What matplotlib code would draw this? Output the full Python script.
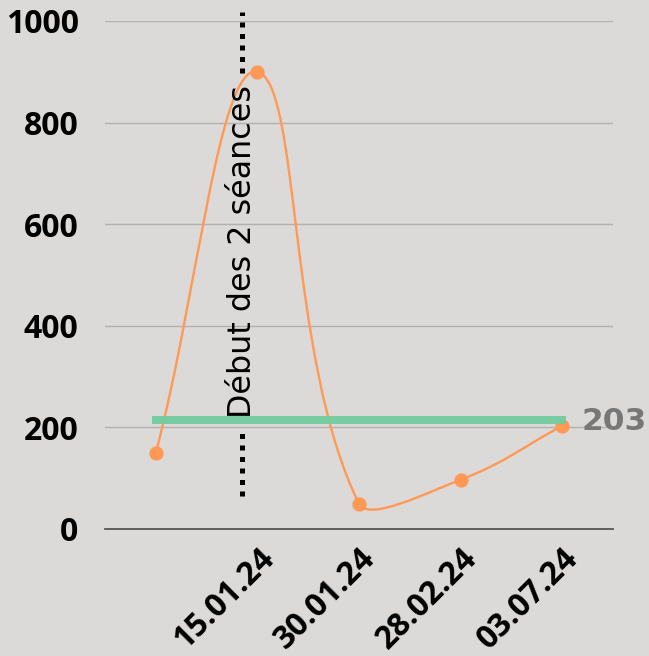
import numpy as np
import matplotlib
matplotlib.use("Agg")
import matplotlib.pyplot as plt
from matplotlib.path import Path
from matplotlib.patches import PathPatch
from matplotlib.transforms import ScaledTranslation

# --- data -------------------------------------------------------------
dates = ["", "15.01.24", "30.01.24", "28.02.24", "03.07.24"]
values = [150, 900, 50, 97, 203]
reference_value = 203
marker_label = "Début des 2 séances"
marker_pos = 0.85          # position of the session marker on the x scale
y_ticks = [0, 200, 400, 600, 800, 1000]

BG = "#dcdad8"
ORANGE = "#ff9955"
GREEN = "#74cc9f"

fig = plt.figure(figsize=(6.49, 6.56), dpi=100, facecolor=BG)
ax = fig.add_axes([0.1618, 0.1936, 0.9445 - 0.1618, 0.968 - 0.1936])
ax.set_facecolor(BG)

x = np.arange(len(values))
ax.set_xlim(-0.5, len(values) - 0.5)
ax.set_ylim(0, 1000)

# grid and axes styling
ax.set_yticks(y_ticks)
ax.yaxis.grid(True, color="#b3b1af", linewidth=1.0)
ax.set_axisbelow(True)
for s in ["top", "right", "left"]:
    ax.spines[s].set_visible(False)
ax.spines["bottom"].set_color("#555555")
ax.spines["bottom"].set_linewidth(1.3)
ax.tick_params(axis="both", length=0)
ax.tick_params(axis="y", pad=19)
ax.tick_params(axis="x", pad=9.5)

tick_font = dict(family="Open Sans", weight="bold", size=23, color="black")
ax.set_yticklabels([str(v) for v in y_ticks], **tick_font)
ax.set_xticks(x)
ax.set_xticklabels(dates, rotation=45, ha="right", va="top",
                   rotation_mode="anchor", **tick_font)


def spline_path(xs, ys, tension=0.4, x_unit=100.0):
    """Cubic Bezier spline through the points (tension-based control points).

    Segment lengths are measured with one x step worth `x_unit` in y units.
    """
    pts = np.column_stack([xs, ys]).astype(float)
    scale = np.array([x_unit, 1.0])
    n = len(pts)
    prev_cp, next_cp = [], []
    for i in range(n):
        cur = pts[i]
        prv = pts[i - 1] if i > 0 else cur
        nxt = pts[i + 1] if i < n - 1 else cur
        d01 = np.hypot(*((cur - prv) * scale))
        d12 = np.hypot(*((nxt - cur) * scale))
        tot = d01 + d12
        s01 = d01 / tot if tot else 0
        s12 = d12 / tot if tot else 0
        prev_cp.append(cur - tension * s01 * (nxt - prv))
        next_cp.append(cur + tension * s12 * (nxt - prv))
    verts = [pts[0]]
    codes = [Path.MOVETO]
    for i in range(1, n):
        verts += [next_cp[i - 1], prev_cp[i], pts[i]]
        codes += [Path.CURVE4] * 3
    return Path(np.array(verts), codes)


ax.add_patch(PathPatch(spline_path(x, values), facecolor="none",
                       edgecolor=ORANGE, linewidth=1.7, zorder=3))
ax.plot(x, values, linestyle="none", marker="o", markersize=9.3,
        color=ORANGE, zorder=4)

# reference line with its value
lift = ax.transData + ScaledTranslation(0, 6 / 100, fig.dpi_scale_trans)
ax.plot([0, len(values) - 1], [reference_value, reference_value],
        color=GREEN, linewidth=5.8, solid_capstyle="projecting",
        transform=lift, zorder=5, alpha=0.95)
ax.annotate(str(reference_value), xy=(len(values) - 1, reference_value),
            xycoords=lift, xytext=(14, -7.5), textcoords="offset points",
            ha="left", va="baseline", family="DejaVu Sans", weight="bold",
            fontsize=22.5, color="#777777", annotation_clip=False)

# session marker: dotted vertical line interrupted by its label
dot_style = dict(color="black", linewidth=3.6, linestyle=(0, (1, 1.3)),
                 dash_capstyle="butt", clip_on=False, zorder=6)
ax.plot([marker_pos, marker_pos], [65, 192], **dot_style)
ax.plot([marker_pos, marker_pos], [898, 1018], **dot_style)
ax.text(marker_pos, 547, marker_label, rotation=90, ha="center",
        va="center", family="DejaVu Sans", fontsize=22.9, color="black",
        zorder=7)

fig.savefig("out.png", dpi=100, facecolor=BG)
